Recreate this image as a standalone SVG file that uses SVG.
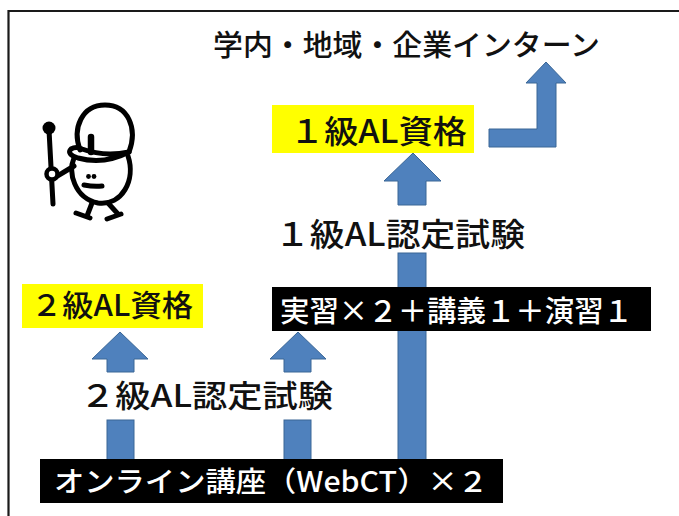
<svg xmlns="http://www.w3.org/2000/svg" width="679" height="516" viewBox="0 0 679 516">
  <style>
    .jp { font-family: "Noto Sans CJK JP", "Noto Sans", "Liberation Sans", sans-serif; font-weight: 500; }
    .dark { fill: #111; }
    .light { fill: #fff; }
    .arrow { fill: #4F81BD; stroke: #3A6696; stroke-width: 1; }
    .ink { fill: none; stroke: #000; stroke-width: 5; stroke-linecap: round; stroke-linejoin: round; }
  </style>

  <rect x="0" y="0" width="679" height="516" fill="#fff"/>

  <!-- frame (top and left edges) -->
  <path d="M8.5 516 V11 H679" fill="none" stroke="#1a1a1a" stroke-width="2.2"/>

  <!-- connectors: block arrows -->
  <g id="connectors">
    <!-- 2級 path -->
    <polygon class="arrow" points="107,372 107,359 92,359 120,332 148,359 134,359 134,372"/>
    <rect class="arrow" x="107" y="420" width="27" height="40"/>
    <!-- towards the practicum bar -->
    <polygon class="arrow" points="284,372 284,359 270,359 298,332 326,359 311,359 311,372"/>
    <rect class="arrow" x="284" y="420" width="27" height="40"/>
    <!-- 1級 path -->
    <polygon class="arrow" points="398,205 398,181 384,181 413,153 441,181 426,181 426,205"/>
    <rect class="arrow" x="398" y="253" width="28" height="207"/>
    <!-- bent arrow to internship -->
    <polygon class="arrow" points="489,129 537,129 537,83 526,83 546,62 566,83 556,83 556,147 489,147"/>
  </g>

  <g id="internship">
    <text class="jp dark" x="213" y="56" font-size="29" textLength="387" lengthAdjust="spacingAndGlyphs">学内・地域・企業インターン</text>
  </g>

  <g id="level1-qualification">
    <rect x="272" y="105" width="202" height="48" fill="#FFFF00"/>
    <text class="jp dark" x="290" y="143" font-size="32" textLength="177" lengthAdjust="spacingAndGlyphs">１級AL資格</text>
  </g>

  <g id="level1-exam">
    <text class="jp dark" x="275" y="246" font-size="32" textLength="250" lengthAdjust="spacingAndGlyphs">１級AL認定試験</text>
  </g>

  <g id="level2-qualification">
    <rect x="22" y="284" width="181" height="44" fill="#FFFF00"/>
    <text class="jp dark" x="31" y="316" font-size="30" textLength="162" lengthAdjust="spacingAndGlyphs">２級AL資格</text>
  </g>

  <g id="practicum">
    <rect x="272" y="287" width="379" height="44" fill="#000"/>
    <text class="jp light" x="280" y="322" font-size="29" textLength="353" lengthAdjust="spacingAndGlyphs">実習×２＋講義１＋演習１</text>
  </g>

  <g id="level2-exam">
    <text class="jp dark" x="80" y="407" font-size="31" textLength="253" lengthAdjust="spacingAndGlyphs">２級AL認定試験</text>
  </g>

  <g id="online-course">
    <rect x="40" y="459" width="463" height="44" fill="#000"/>
    <text class="jp light" x="54" y="492" font-size="28" textLength="434" lengthAdjust="spacingAndGlyphs">オンライン講座（WebCT）×２</text>
  </g>

  <!-- mascot with baton -->
  <g id="mascot">
    <!-- baton -->
    <line class="ink" x1="49" y1="130" x2="53" y2="204"/>
    <circle cx="49" cy="128" r="6.5" fill="#000"/>
    <!-- arm -->
    <path class="ink" d="M56 177 Q64 172 74 166"/>
    <circle cx="52" cy="174" r="5.5" fill="#fff" stroke="#000" stroke-width="4.5"/>
    <!-- body -->
    <path class="ink" d="M74 158 C68 172 74 198 98 203 C122 206 136 180 128 156"/>
    <!-- head dome -->
    <path class="ink" d="M80 150 C72 128 82 105 105 105 C128 105 138 128 129 152"/>
    <!-- brim -->
    <path class="ink" d="M129 152 Q104 165 78 158 Q66 154 71 149 Q76 146 82 149 Q104 157 129 152"/>
    <!-- tuft -->
    <line x1="91" y1="137" x2="91" y2="152" stroke="#000" stroke-width="6.5" stroke-linecap="round"/>
    <!-- face -->
    <circle cx="88.5" cy="176.5" r="2.4" fill="#000"/>
    <circle cx="94" cy="176.5" r="2.4" fill="#000"/>
    <path class="ink" d="M84 185 Q94 187 102 186" stroke-width="4.5"/>
    <!-- legs -->
    <path class="ink" d="M92 203 L87 216 M76 213 L90 218"/>
    <path class="ink" d="M108 203 L118 214 M107 219 L121 214"/>
  </g>
</svg>
